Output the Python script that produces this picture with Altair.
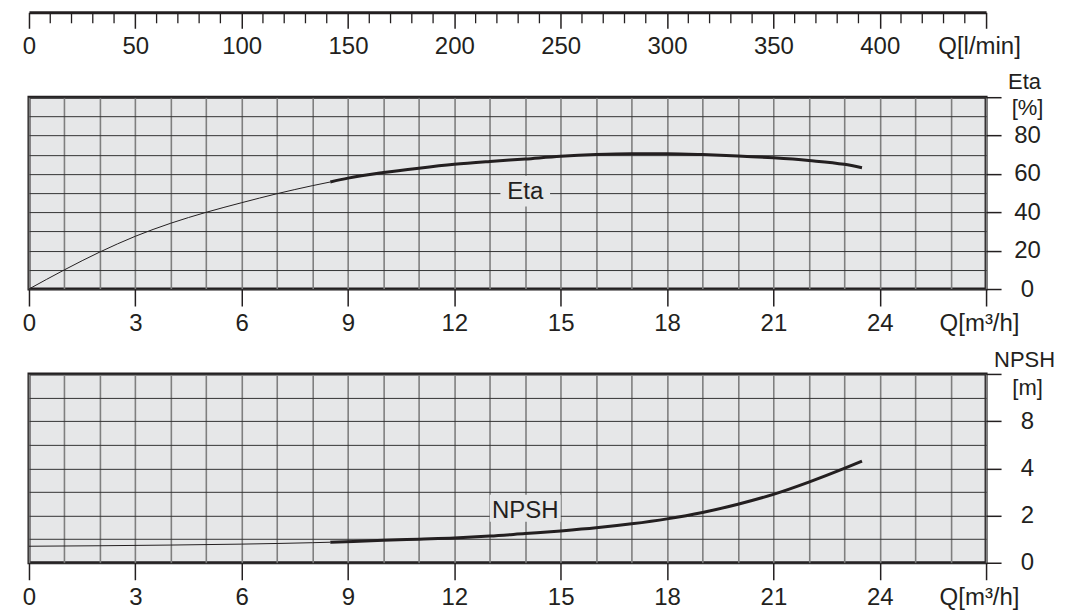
import altair as alt
import pandas as pd

# ---------------- data ----------------
eta_q = [0, 1, 2, 3, 4, 5, 6, 7, 8, 8.5, 9, 10, 11, 12, 13, 14, 15, 16, 17, 18, 19, 20, 21, 22, 23, 23.5]
eta_v = [0, 10.0, 19.3, 27.5, 34.3, 40.0, 45.0, 49.7, 53.9, 55.8, 57.8, 60.7, 63.0, 65.0, 66.5, 67.8,
         69.2, 70.1, 70.5, 70.5, 70.1, 69.4, 68.4, 67.0, 65.0, 63.2]
npsh_q = [0, 2, 4, 6, 8, 8.5, 10, 11, 12, 13, 14, 15, 16, 17, 18, 19, 20, 21, 22, 23, 23.5]
npsh_v = [0.70, 0.72, 0.75, 0.79, 0.85, 0.87, 0.95, 1.00, 1.05, 1.13, 1.24, 1.35, 1.48, 1.65, 1.86,
          2.13, 2.48, 2.90, 3.42, 4.00, 4.62]
thick_from = 8.5

q_grid = list(range(0, 28))
q_ticks = [0, 3, 6, 9, 12, 15, 18, 21, 24, 27]
q_unit = "Q[m³/h]"
lmin_major = list(range(0, 451, 50))
lmin_minor = [v for v in range(10, 450, 10) if v % 50]
lmin_unit = "Q[l/min]"
eta_grid = list(range(0, 101, 10))
eta_ticks = [0, 20, 40, 60, 80, 100]
eta_unit = "[%]"
npsh_grid = [0, 1, 2, 3, 4, 6, 8, 10, 12]
npsh_ticks = [0, 2, 4, 8, 12]
npsh_domain = [0, 4, 12]
npsh_unit = "[m]"

eta_label = ["Eta"]
eta_label_q = [14]
eta_label_v = [50.5]
eta_box_q = [13.3, 14.7]
eta_box_v = [43, 59]
npsh_label = ["NPSH"]
npsh_label_q = [14]
npsh_label_v = [2.2]
npsh_box_q = [13.0, 15.0]
npsh_box_v = [1.74, 2.88]

# ---------------- style ----------------
FONT = "Liberation Sans"
FS = 24
TFS = 22
INK = "#231f20"
BG = "#e6e7e8"
VGRID = "#7f7f7f"
HGRID = "#333333"
W = 958
H_ETA = 192
H_NPSH = 189

eta_df = pd.DataFrame({"q": eta_q, "v": eta_v})
npsh_df = pd.DataFrame({"q": npsh_q, "v": npsh_v})

q_scale = alt.Scale(domain=[0, 27], nice=False, zero=False)
eta_scale = alt.Scale(domain=[0, 100], nice=False, zero=False)
npsh_scale = alt.Scale(domain=npsh_domain, range=[H_NPSH, H_NPSH / 2, 0], nice=False, zero=False)


def cond(test, yes, no):
    return {"condition": {"test": test, "value": yes}, "value": no}


q_axis = alt.Axis(
    orient="bottom", values=q_grid, grid=True, gridColor=VGRID, gridWidth=1.6,
    domain=False, tickColor=INK, tickWidth=1.5, tickSize=17,
    tickOpacity=cond(f"indexof({q_ticks}, datum.value) >= 0", 1, 0),
    labelExpr=f"datum.value == 27 ? '{q_unit}' : (indexof({q_ticks[:-1]}, datum.value) >= 0 ? datum.label : '')",
    labelOffset=cond("datum.value == 27", -7, 0),
    labelFont=FONT, labelFontSize=FS, labelColor=INK, labelPadding=6,
    labelFlush=False, labelOverlap=False, title=None,
)


def y_axis(grid_vals, tick_vals, top_val, unit, unit_off, title, title_y):
    shown = tick_vals[:-1]
    return alt.Axis(
        orient="right", values=grid_vals, grid=True, gridColor=HGRID, gridWidth=1,
        domain=False, tickColor=INK, tickWidth=1.5, tickSize=15,
        tickOpacity=cond(f"indexof({tick_vals}, datum.value) >= 0", 1, 0),
        labelExpr=f"datum.value == {top_val} ? '{unit}' : (indexof({shown}, datum.value) >= 0 ? datum.label : '')",
        labelBaseline=cond(f"datum.value == {top_val}", "top", "middle"),
        labelOffset=cond(f"datum.value == {top_val}", unit_off, 0),
        labelFontSize=cond(f"datum.value == {top_val}", TFS, FS),
        labelAlign="center", labelPadding=26,
        labelFont=FONT, labelColor=INK,
        labelFlush=False, labelOverlap=False,
        title=title, titleAngle=0, titleAlign="center", titleBaseline="middle",
        titleX=38, titleY=title_y, titleFont=FONT, titleFontSize=TFS,
        titleFontWeight="normal", titleColor=INK,
    )


def panel(df, yscale, yaxis, lab, lab_q, lab_v, box_q, box_v, height):
    def X(f):
        return alt.X(f, scale=q_scale, axis=q_axis, title=None)

    def Y(f):
        return alt.Y(f, scale=yscale, axis=yaxis)

    base = alt.Chart(df)
    thin = base.transform_filter(f"datum.q <= {thick_from}").mark_line(
        color=INK, strokeWidth=1, interpolate="monotone"
    ).encode(x=X("q:Q"), y=Y("v:Q"))
    thick = base.transform_filter(f"datum.q >= {thick_from}").mark_line(
        color=INK, strokeWidth=3, interpolate="monotone"
    ).encode(x=X("q:Q"), y=Y("v:Q"))
    box_df = pd.DataFrame({"q": [box_q[0]], "q2": [box_q[1]], "v": [box_v[0]], "v2": [box_v[1]]})
    box = alt.Chart(box_df).mark_rect(fill=BG).encode(
        x=X("q:Q"), x2="q2", y=Y("v:Q"), y2="v2",
    )
    txt_df = pd.DataFrame({"q": lab_q, "v": lab_v, "t": lab})
    txt = alt.Chart(txt_df).mark_text(
        font=FONT, fontSize=FS, color=INK, align="center", baseline="middle"
    ).encode(x=X("q:Q"), y=Y("v:Q"), text="t:N")
    return alt.layer(thin, box, thick, txt).properties(
        width=W, height=height,
        view=alt.ViewBackground(fill=BG, stroke=INK, strokeWidth=3),
    )


eta_panel = panel(
    eta_df, eta_scale, y_axis(eta_grid, eta_ticks, 100, eta_unit, 0, "Eta", -16),
    eta_label, eta_label_q, eta_label_v, eta_box_q, eta_box_v, H_ETA,
)
npsh_panel = panel(
    npsh_df, npsh_scale, y_axis(npsh_grid, npsh_ticks, 12, npsh_unit, 4, "NPSH", -14),
    npsh_label, npsh_label_q, npsh_label_v, npsh_box_q, npsh_box_v, H_NPSH,
)

# top l/min scale
minor_df = pd.DataFrame({"l": lmin_minor})
top_panel = alt.Chart(minor_df).mark_rule(color=INK, strokeWidth=1.3).encode(
    x=alt.X(
        "l:Q",
        scale=alt.Scale(domain=[0, 450], nice=False, zero=False),
        axis=alt.Axis(
            orient="bottom", values=lmin_major, grid=False,
            domain=True, domainColor=INK, domainWidth=3,
            tickColor=INK, tickWidth=1.5, tickSize=16,
            labelExpr=f"datum.value == 450 ? '{lmin_unit}' : datum.label",
            labelOffset=cond("datum.value == 450", -7, 0),
            labelFont=FONT, labelFontSize=FS, labelColor=INK, labelPadding=6,
            labelFlush=False, labelOverlap=False,
        ),
        title=None,
    ),
    y=alt.value(1),
    y2=alt.value(12),
).properties(width=W, height=1, view=alt.ViewBackground(strokeWidth=0))

chart = alt.vconcat(top_panel, eta_panel, npsh_panel, spacing=85).properties(
    bounds="flush",
    padding={"left": 12, "top": 3, "right": 0, "bottom": 0},
).configure(font=FONT).configure_view(strokeWidth=0)

chart.save("out.html", embed_options={"renderer": "svg", "actions": False})
